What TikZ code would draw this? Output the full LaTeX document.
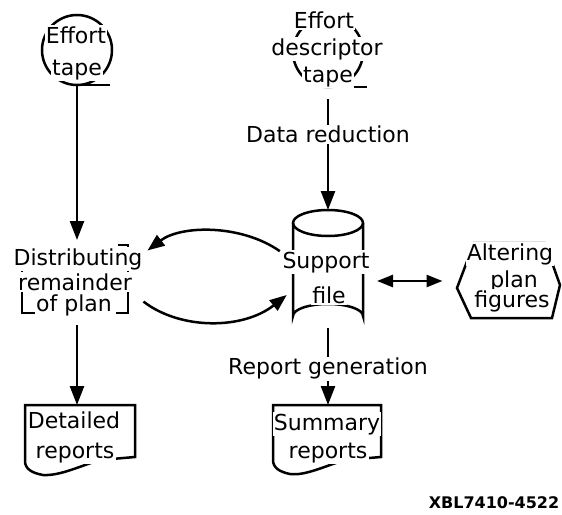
\documentclass[tikz,border=0pt]{standalone}
\usepackage{fontspec}
\setmainfont{DejaVu Sans}
\usetikzlibrary{arrows.meta}
\tikzset{
  txt/.style={fill=white, inner sep=0.6pt, anchor=base, font=\fontsize{11}{13}\selectfont},
  arr/.style={-{Triangle[length=9.5pt,width=7pt]}},
  carr/.style={-{Triangle[length=8.5pt,width=6.5pt]}},
  darr/.style={{Triangle[length=8pt,width=6pt]}-{Triangle[length=8pt,width=6pt]}},
  hold/.style={inner sep=0pt, outer sep=0pt}
}
\begin{document}
\begin{tikzpicture}[x=0.5pt, y=-0.5pt, line width=1.25pt]
\useasboundingbox (0,0) rectangle (562,514);
% tapes
\node [hold, circle, draw, minimum size=35pt] (tapeA) at (77,50) {};
\draw (tapeA.south) -- ++(33,0);
\node [hold, circle, draw, minimum size=35pt] (tapeB) at (328,52) {};
\draw (tapeB.south) -- ++(39,0);
% distributing bracket
\node [hold, minimum width=53pt, minimum height=38pt] (dist) at (77,278) {};
\draw (22,266) -- (22,313) -- (36,313);
\draw (118,245) -- (128,245) -- (128,313) -- (116,313);
% support file cylinder
\node [hold, minimum width=35pt, minimum height=59pt] (supp) at (328,269) {};
\draw (328,223) ellipse (35 and 13);
\draw (293,223) -- (293,316) arc (180:360:35 and 12) -- (363,223);
% altering hexagon
\node [hold, minimum width=51.5pt, minimum height=37.5pt] (alt) at (508,281) {};
\draw (474,243) -- (545,243) -- (560,285) -- (552,318) -- (471,318) -- (457,288) -- cycle;
% reports
\node [hold, minimum width=55pt, minimum height=30pt] (det) at (77,435) {};
\draw (25,405) -- (135,405) -- (135,457) -- (100,460) .. controls (80,466) and (60,476) .. (43,475)
  .. controls (32,473) and (25,469) .. (25,461) -- cycle;
\node [hold, minimum width=54pt, minimum height=30pt] (sum) at (328,435) {};
\draw (273,405) -- (381,405) -- (381,457) -- (345,460) .. controls (325,466) and (305,476) .. (290,474)
  .. controls (280,472) and (273,468) .. (273,460) -- cycle;
% texts
\node [txt] (tapeA1) at (76,43) {Effort};
\node [txt] (tapeA2) at (77,75) {tape};
\node [txt] (tapeB1) at (324,28) {Effort};
\node [txt] (tapeB2) at (327,55) {descriptor};
\node [txt] (tapeB3) at (328,82) {tape};
\node [txt] (dist1) at (78,265) {Distributing};
\node [txt] (dist2) at (75,290) {remainder};
\node [txt] (dist3) at (74,311) {of plan};
\node [txt] (supp1) at (326,268) {Support};
\node [txt] (supp2) at (329,303) {file};
\node [txt] (alt1) at (510,260) {Altering};
\node [txt] (alt2) at (514,287) {plan};
\node [txt] (alt3) at (512,307) {figures};
\node [txt] (det1) at (74,428) {Detailed};
\node [txt] (det2) at (75,458) {reports};
\node [txt] (sum1) at (327,430) {Summary};
\node [txt] (sum2) at (328,458) {reports};
\node [anchor=base, inner sep=0pt, font=\bfseries\fontsize{8}{10}\selectfont] (code) at (494,508) {XBL7410-4522};
% connectors
\draw [arr] (tapeA.south) -- (tapeA.south |- dist.north);
\draw [arr, shorten <=4.5pt] (dist.south) -- (det.north);
\draw [arr, shorten <=6pt] (tapeB.south) -- node [txt, pos=0.455] (datared) {Data reduction} (supp.north);
\draw [arr] (supp.south) -- node [txt, pos=0.61] (repgen) {Report generation} (sum.north);
\draw [carr, shorten <=8pt, shorten >=11pt] (supp.166) to [bend right=36] (dist.15);
\draw [carr, shorten <=8.5pt, shorten >=4pt] (dist.346) to [bend right=38] (supp.211);
\draw [darr, shorten <=7pt, shorten >=7pt] (supp.east |- alt.west) -- (alt.west);
\end{tikzpicture}
\end{document}
